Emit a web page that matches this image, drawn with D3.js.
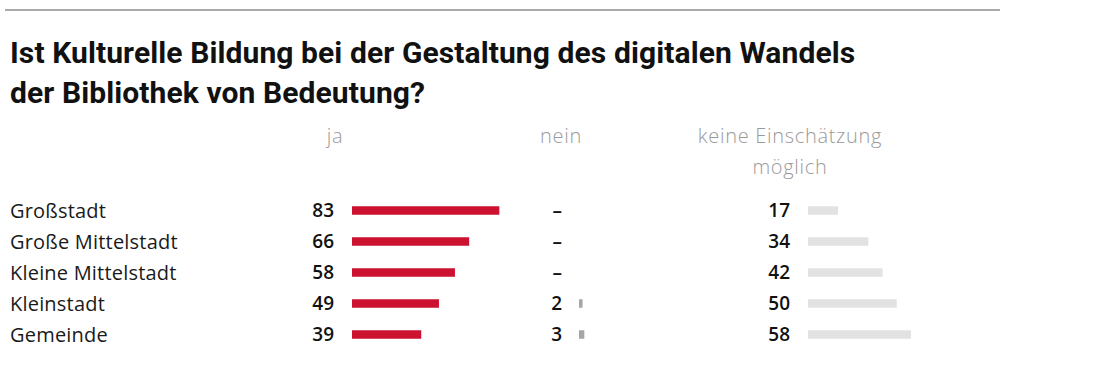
<!DOCTYPE html>
<html>
<head>
<meta charset="utf-8">
<script src="https://cdn.jsdelivr.net/npm/d3@7"></script>
<style>
  body { margin: 0; background: #fff; }
  svg { display: block; }
  .title { font-family: "Roboto", sans-serif; font-weight: bold; font-size: 30px; fill: #111; letter-spacing: 0.1px; }
  .head { font-family: "Open Sans", sans-serif; font-weight: 300; font-size: 20px; fill: #9a9a9a; letter-spacing: 0.7px; }
  .cat { font-family: "Open Sans", sans-serif; font-size: 20px; fill: #1a1a1a; letter-spacing: 0.2px; }
  .val { font-family: "Open Sans", sans-serif; font-weight: 600; font-size: 19px; fill: #111; }
</style>
</head>
<body>
<div id="viz"></div>
<script>
const categories = ["Großstadt", "Große Mittelstadt", "Kleine Mittelstadt", "Kleinstadt", "Gemeinde"];
const ja = [83, 66, 58, 49, 39];
const nein = [null, null, null, 2, 3];
const keine = [17, 34, 42, 50, 58];
const titleLines = ["Ist Kulturelle Bildung bei der Gestaltung des digitalen Wandels", "der Bibliothek von Bedeutung?"];

const svg = d3.select("#viz").append("svg")
  .attr("width", 1100)
  .attr("height", 367);

// Linie oben
svg.append("line")
  .attr("x1", 5).attr("x2", 1000)
  .attr("y1", 10).attr("y2", 10)
  .attr("stroke", "#aaa").attr("stroke-width", 2);

svg.selectAll("text.title").data(titleLines).join("text")
  .attr("class", "title")
  .attr("x", 10)
  .attr("y", (d, i) => 63 + i * 40)
  .text(d => d);

const y = d3.scaleBand().domain(categories).range([195, 350]).paddingInner(0).paddingOuter(0);
const yc = d => y(d) + y.bandwidth() / 2;
const w = d3.scaleLinear().domain([0, 100]).range([0, 177.5]);
const barH = 8.5;

// Spalten: Start der Balken, rechter Rand der Zahlen
const columns = [
  { key: "ja", data: ja, barX: 352, numX: 334, color: "#cc1230", head: ["ja"], headX: 335 },
  { key: "nein", data: nein, barX: 579, numX: 562, color: "#a6a6a6", head: ["nein"], headX: 561 },
  { key: "keine", data: keine, barX: 808, numX: 790, color: "#e2e2e2", head: ["keine Einschätzung", "möglich"], headX: 790 }
];

svg.selectAll("text.cat").data(categories).join("text")
  .attr("class", "cat")
  .attr("x", 10)
  .attr("y", d => yc(d))
  .attr("dy", "0.35em")
  .text(d => d);

columns.forEach(col => {
  const g = svg.append("g");
  g.selectAll("text.head").data(col.head).join("text")
    .attr("class", "head")
    .attr("x", col.headX)
    .attr("y", (d, i) => 143 + i * 31)
    .attr("text-anchor", "middle")
    .text(d => d);

  const rows = categories.map((c, i) => ({ c, v: col.data[i] }));

  g.selectAll("rect").data(rows.filter(d => d.v != null)).join("rect")
    .attr("x", col.barX)
    .attr("y", d => yc(d.c) - barH / 2)
    .attr("width", d => w(d.v))
    .attr("height", barH)
    .attr("fill", col.color);

  g.selectAll("text.val").data(rows).join("text")
    .attr("class", "val")
    .attr("x", col.numX)
    .attr("y", d => yc(d.c))
    .attr("dy", "0.35em")
    .attr("text-anchor", "end")
    .text(d => d.v == null ? "–" : d.v);
});
</script>
</body>
</html>
